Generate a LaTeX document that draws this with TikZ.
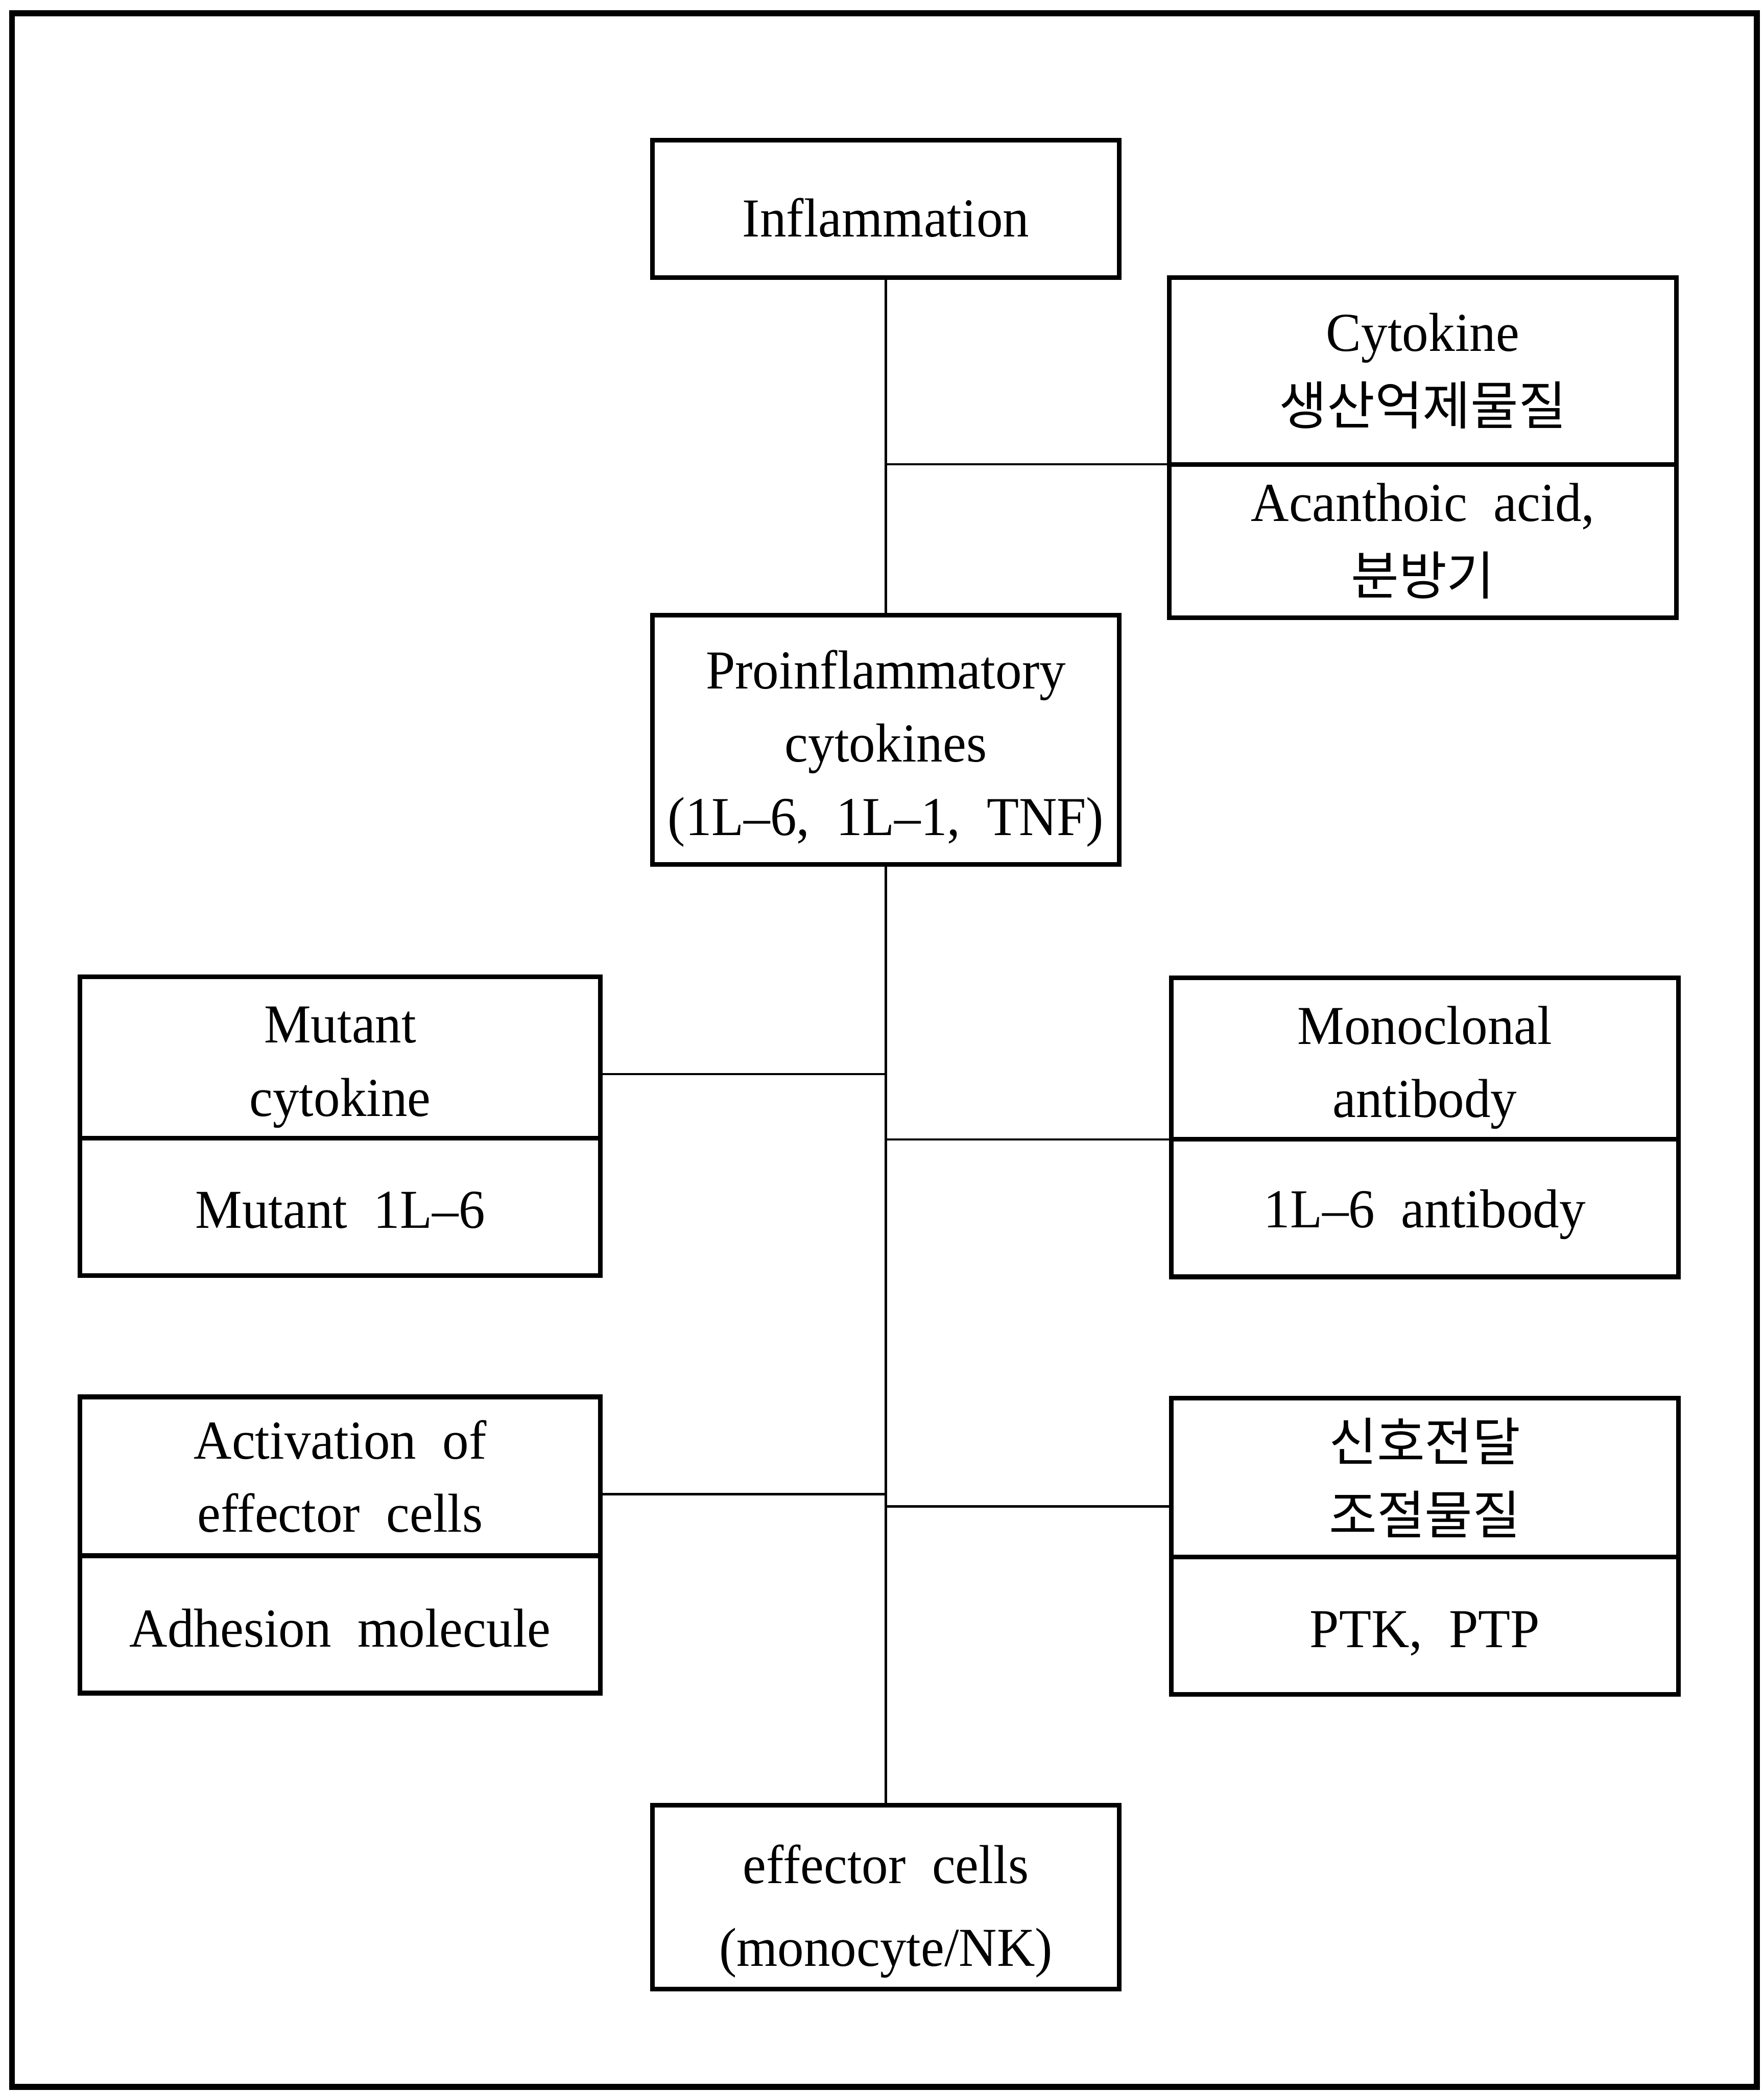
\documentclass[tikz,border=0pt]{standalone}
\usepackage{fontspec}
\setmainfont[FakeStretch=0.96]{Liberation Serif}
\newfontfamily\kr[Scale=0.95]{Noto Sans CJK KR}
\newcommand\txtup[1][4.2mm]{\rule{0pt}{#1}}

\begin{document}
\begin{tikzpicture}[x=0.1mm,y=-0.1mm,
					-,
					font=\fontsize{11.7}{15.6}\selectfont,
					main node/.style={rectangle,draw,line width=1pt,align=center,inner sep=0pt,minimum width=35mm},
					side node/.style={main node,minimum width=38mm},
					wide node/.style={main node,minimum width=39mm},
					link/.style={line width=0.5pt}]

  \useasboundingbox (0,0) rectangle (1322,1568);
  \draw[line width=1.3pt] (9,10) rectangle (1317,1564);

  \node[main node,minimum height=10.3mm] (Infl) at (664,156.5) {\txtup Inflammation};
  \node[side node,minimum height=14mm] (CytTop) at (1066.5,278) {Cytokine\\{\kr 생산억제물질}};
  \node[side node,minimum height=11.5mm] (CytBot) at (1066.5,405.5) {Acanthoic\ \ acid,\\{\kr 분방기}};
  \node[main node,minimum height=18.7mm] (Proinfl) at (664,554.5) {\txtup Proinflammatory\\cytokines\\(1L--6,\ \ 1L--1,\ \ TNF)};

  \node[wide node,minimum height=12.1mm] (MutTop) at (255,792.5) {\txtup Mutant\\cytokine};
  \node[wide node,minimum height=10.3mm] (MutBot) at (255,904.5) {\txtup[3.2mm]Mutant\ \ 1L--6};
  \node[side node,minimum height=12.1mm] (MonoTop) at (1068,793.5) {\txtup Monoclonal\\antibody};
  \node[side node,minimum height=10.3mm] (MonoBot) at (1068,905.5) {\txtup[3.8mm]1L--6\ \ antibody};

  \node[wide node,minimum height=11.9mm] (ActTop) at (255,1106.5) {Activation\ \ of\\effector\ \ cells};
  \node[wide node,minimum height=10.3mm] (ActBot) at (255,1217.5) {\txtup[3.4mm]Adhesion\ \ molecule};
  \node[side node,minimum height=11.9mm] (SigTop) at (1068,1107.5) {{\kr 신호전달}\\{\kr 조절물질}};
  \node[side node,minimum height=10.3mm] (SigBot) at (1068,1218.5) {\txtup[3.9mm]PTK,\ \ PTP};

  \node[main node,minimum height=13.8mm] (Eff) at (664,1422) {\txtup[5mm]effector\ \ cells\\[2pt](monocyte/NK)};

  % branch points on the trunk
  \coordinate (j1) at (664,348);
  \coordinate (j2) at (664,805);
  \coordinate (j3) at (664,854);
  \coordinate (j4) at (664,1120);
  \coordinate (j5) at (664,1129);

  \path[link]
    (Infl) edge (Proinfl)
    (Proinfl) edge (Eff)
    (j1) edge (CytTop.west |- j1)
    (j2) edge (MutTop.east |- j2)
    (j3) edge (MonoTop.west |- j3)
    (j4) edge (ActTop.east |- j4)
    (j5) edge (SigTop.west |- j5);
\end{tikzpicture}
\end{document}
